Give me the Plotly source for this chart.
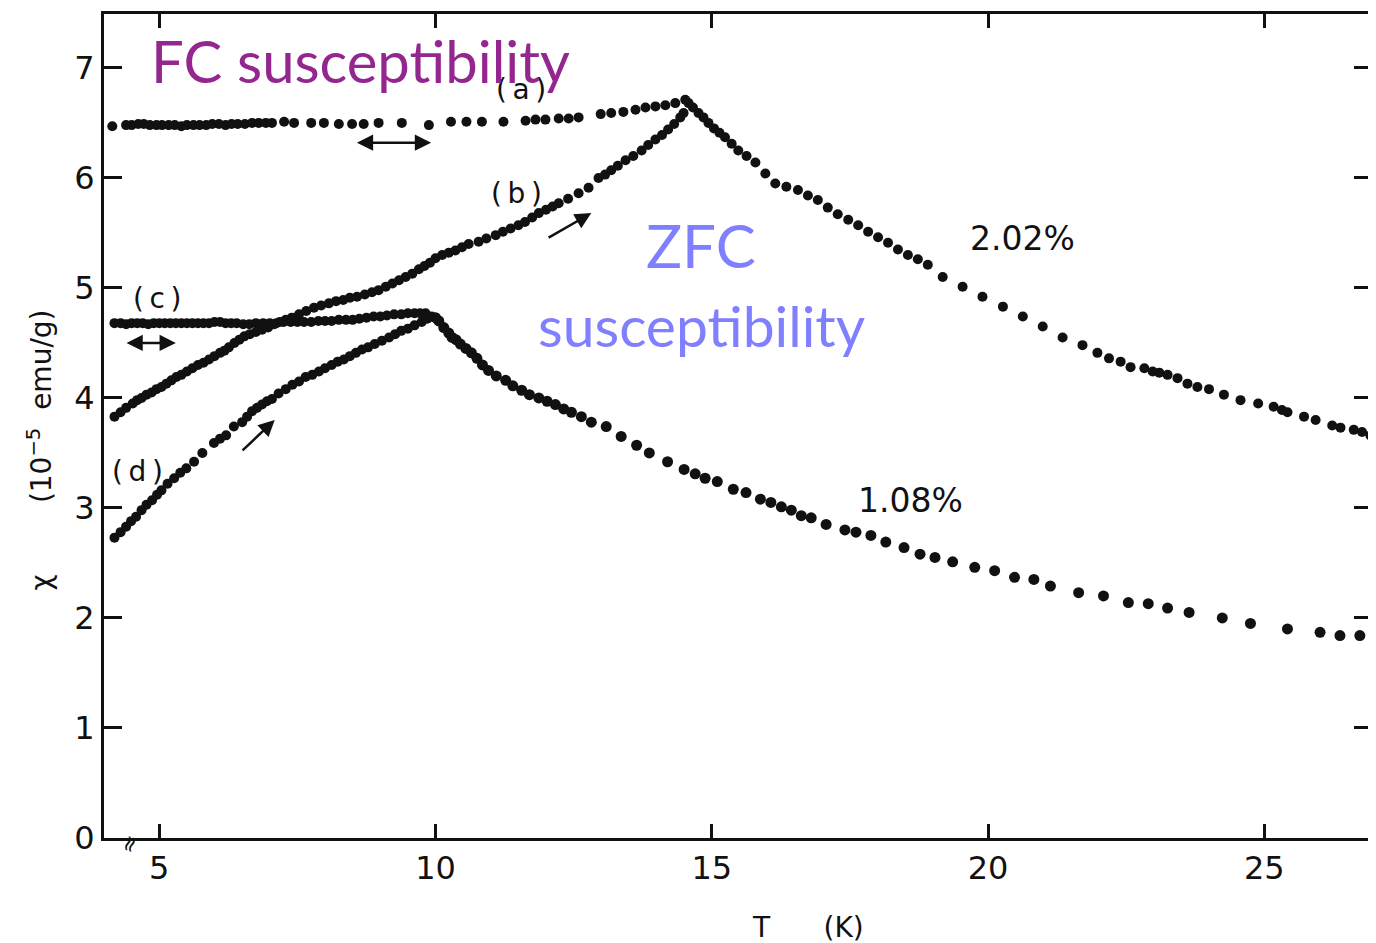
import plotly.graph_objects as go

# ---------------- data ----------------
# (a) field-cooled, 2.02 %
T_a = [4.15, 4.40, 4.50, 4.62, 4.72, 4.83, 4.95, 5.05, 5.17, 5.28, 5.40, 5.50, 5.62, 5.73, 5.85,
       5.96, 6.08, 6.20, 6.31, 6.42, 6.55, 6.68, 6.80, 6.93, 7.04, 7.26, 7.44, 7.75, 7.98, 8.25,
       8.49, 8.70, 8.97, 9.39, 9.88, 10.28, 10.56, 10.84, 11.23, 11.63, 11.81, 11.99, 12.23, 12.41,
       12.59, 12.99, 13.18, 13.40, 13.62, 13.80, 13.98, 14.16, 14.34, 14.52]
chi_a = [6.47, 6.48, 6.48, 6.49, 6.49, 6.48, 6.48, 6.48, 6.48, 6.48, 6.47, 6.48, 6.48, 6.48, 6.48,
         6.49, 6.49, 6.48, 6.49, 6.49, 6.49, 6.50, 6.50, 6.50, 6.50, 6.51, 6.50, 6.50, 6.50, 6.49,
         6.49, 6.49, 6.50, 6.50, 6.48, 6.51, 6.51, 6.51, 6.51, 6.52, 6.53, 6.53, 6.54, 6.54,
         6.55, 6.58, 6.59, 6.60, 6.62, 6.64, 6.65, 6.66, 6.68, 6.71]

# (b) zero-field-cooled, 2.02 %
T_b = [4.19, 4.30, 4.40, 4.52, 4.60, 4.68, 4.77, 4.86, 4.95, 5.04, 5.13, 5.22, 5.31, 5.40, 5.50,
       5.60, 5.70, 5.80, 5.90, 6.00, 6.10, 6.18, 6.26, 6.36, 6.45, 6.54, 6.64, 6.75, 6.86, 6.97,
       7.08, 7.18, 7.29, 7.40, 7.53, 7.66, 7.80, 7.93, 8.07, 8.20, 8.33, 8.45, 8.58, 8.72, 8.85,
       8.97, 9.10, 9.22, 9.34, 9.46, 9.58, 9.70, 9.80, 9.90, 10.00, 10.12, 10.24, 10.36, 10.48,
       10.60, 10.78, 10.92, 11.09, 11.22, 11.36, 11.50, 11.62, 11.75, 11.87, 12.00, 12.12, 12.23,
       12.40, 12.59, 12.77, 12.95, 13.07, 13.18, 13.30, 13.44, 13.58, 13.73, 13.85, 13.98, 14.10,
       14.21, 14.32, 14.43, 14.49]
chi_b = [3.83, 3.87, 3.91, 3.95, 3.98, 4.00, 4.03, 4.05, 4.08, 4.10, 4.13, 4.16, 4.19, 4.21, 4.24,
         4.27, 4.30, 4.32, 4.35, 4.38, 4.41, 4.43, 4.46, 4.50, 4.53, 4.56, 4.58, 4.60, 4.62, 4.64,
         4.67, 4.69, 4.71, 4.73, 4.76, 4.79, 4.82, 4.84, 4.86, 4.88, 4.89, 4.91, 4.92, 4.94, 4.96,
         4.98, 5.01, 5.04, 5.07, 5.10, 5.13, 5.17, 5.20, 5.23, 5.27, 5.30, 5.32, 5.34, 5.37,
         5.40, 5.42, 5.45, 5.48, 5.51, 5.54, 5.57, 5.60, 5.64, 5.68, 5.71, 5.74, 5.77,
         5.81, 5.86, 5.91, 6.00, 6.03, 6.07, 6.11, 6.16, 6.20, 6.25, 6.30, 6.35, 6.39,
         6.44, 6.49, 6.55, 6.59]

# 2.02 % above the freezing temperature (FC = ZFC)
T_hi202 = [14.58, 14.66, 14.76, 14.85, 14.94, 15.04, 15.14, 15.24, 15.36, 15.48, 15.63, 15.79,
           15.97, 16.15, 16.35, 16.56, 16.74, 16.92, 17.10, 17.28, 17.47, 17.65, 17.83, 18.01,
           18.19, 18.37, 18.55, 18.73, 18.91, 19.18, 19.54, 19.90, 20.27, 20.63, 20.99, 21.35,
           21.71, 21.98, 22.19, 22.40, 22.58, 22.83, 22.98, 23.10, 23.25, 23.43, 23.61, 23.79,
           24.00, 24.27, 24.57, 24.89, 25.17, 25.32, 25.42, 25.72, 25.93, 26.23, 26.38, 26.62,
           26.77, 26.92]
chi_hi202 = [6.68, 6.64, 6.59, 6.55, 6.50, 6.45, 6.41, 6.37, 6.31, 6.25, 6.20, 6.14,
             6.04, 5.95, 5.92, 5.89, 5.84, 5.80, 5.73, 5.67, 5.62, 5.57, 5.51, 5.46,
             5.41, 5.35, 5.30, 5.26, 5.21, 5.10, 5.01, 4.92, 4.83, 4.74, 4.65, 4.55,
             4.48, 4.41, 4.36, 4.33, 4.28, 4.27, 4.24, 4.23, 4.21, 4.18, 4.13, 4.10,
             4.08, 4.03, 3.98, 3.95, 3.92, 3.89, 3.87, 3.83, 3.80, 3.75, 3.73, 3.71,
             3.69, 3.66]

# (c) field-cooled, 1.08 %
T_c = [4.19, 4.30, 4.40, 4.50, 4.60, 4.70, 4.80, 4.90, 5.00, 5.10, 5.20, 5.30, 5.40, 5.50, 5.60,
       5.70, 5.80, 5.90, 6.00, 6.10, 6.20, 6.30, 6.40, 6.52, 6.63, 6.75, 6.88, 7.00, 7.12, 7.25,
       7.38, 7.50, 7.62, 7.75, 7.88, 8.00, 8.12, 8.25, 8.38, 8.50, 8.62, 8.75, 8.88, 9.00, 9.12,
       9.25, 9.38, 9.50, 9.62, 9.72, 9.82]
chi_c = [4.68, 4.68, 4.67, 4.68, 4.68, 4.68, 4.67, 4.68, 4.68, 4.68, 4.68, 4.68, 4.68, 4.68, 4.68,
         4.68, 4.68, 4.68, 4.69, 4.69, 4.68, 4.68, 4.68, 4.67, 4.67, 4.68, 4.68, 4.68, 4.68, 4.69,
         4.69, 4.69, 4.69, 4.69, 4.70, 4.70, 4.70, 4.71, 4.71, 4.71, 4.72, 4.73, 4.74, 4.74, 4.75,
         4.76, 4.76, 4.77, 4.77, 4.77, 4.77]

# (d) zero-field-cooled, 1.08 %
T_d = [4.19, 4.30, 4.40, 4.49, 4.58, 4.68, 4.77, 4.87, 4.96, 5.04, 5.15, 5.27, 5.38, 5.49, 5.63,
       5.78, 5.99, 6.10, 6.21, 6.35, 6.50, 6.59, 6.68, 6.77, 6.86, 6.95, 7.04, 7.16, 7.29, 7.41,
       7.53, 7.65, 7.77, 7.89, 8.00, 8.12, 8.23, 8.34, 8.45, 8.56, 8.67, 8.78, 8.90, 9.03, 9.16,
       9.27, 9.38, 9.50, 9.62, 9.75, 9.85, 9.93]
chi_d = [2.73, 2.78, 2.83, 2.88, 2.92, 2.98, 3.03, 3.07, 3.12, 3.16, 3.22, 3.27, 3.32, 3.36, 3.42,
         3.50, 3.59, 3.63, 3.66, 3.74, 3.78, 3.83, 3.88, 3.91, 3.94, 3.97, 3.99, 4.04, 4.08, 4.12,
         4.15, 4.19, 4.21, 4.24, 4.27, 4.30, 4.33, 4.35, 4.38, 4.41, 4.44, 4.46, 4.49, 4.52, 4.55,
         4.58, 4.61, 4.63, 4.66, 4.69, 4.72, 4.74]

# 1.08 % above the freezing temperature (FC = ZFC)
T_hi108 = [10.00, 10.06, 10.15, 10.24, 10.30, 10.37, 10.45, 10.55, 10.65, 10.75, 10.85, 10.96,
           11.10, 11.27, 11.40, 11.56, 11.70, 11.87, 12.02, 12.17, 12.32, 12.46, 12.64, 12.82,
           13.09, 13.36, 13.64, 13.87, 14.20, 14.50, 14.70, 14.88, 15.10, 15.39, 15.62, 15.88,
           16.07, 16.26, 16.44, 16.62, 16.80, 17.07, 17.41, 17.61, 17.88, 18.15, 18.48, 18.77,
           19.04, 19.36, 19.76, 20.12, 20.48, 20.83, 21.13, 21.64, 22.09, 22.54, 22.90, 23.25,
           23.64, 24.24, 24.75, 25.42, 26.01, 26.37, 26.73]
chi_hi108 = [4.73, 4.70, 4.64, 4.59, 4.55, 4.53, 4.49, 4.45, 4.41, 4.36, 4.30, 4.25,
             4.20, 4.16, 4.11, 4.07, 4.03, 4.00, 3.97, 3.94, 3.90, 3.87, 3.83, 3.78,
             3.74, 3.65, 3.57, 3.50, 3.42, 3.35, 3.31, 3.27, 3.24, 3.17, 3.14, 3.08,
             3.05, 3.01, 2.98, 2.93, 2.91, 2.85, 2.80, 2.78, 2.75, 2.69, 2.64, 2.58,
             2.55, 2.51, 2.46, 2.43, 2.37, 2.35, 2.29, 2.23, 2.20, 2.14, 2.13, 2.09,
             2.05, 2.00, 1.95, 1.90, 1.87, 1.84, 1.84]

x_ticks = [5, 10, 15, 20, 25]
y_ticks = [0, 1, 2, 3, 4, 5, 6, 7]

# ---------------- figure ----------------
INK = "#111111"
fig = go.Figure()

series = [
    (T_a, chi_a, 10), (T_b, chi_b, 10), (T_hi202, chi_hi202, 10),
    (T_c, chi_c, 10), (T_d, chi_d, 10), (T_hi108, chi_hi108, 11),
]
for xs, ys, sz in series:
    fig.add_trace(go.Scatter(x=xs, y=ys, mode="markers",
                             marker=dict(color=INK, size=sz, line=dict(width=0)),
                             showlegend=False, hoverinfo="x+y"))

TXT = dict(family="DejaVu Sans", color=INK)
TS = "\u2009"
ann = []
# curve labels
for txt, x, y, sz in [(f"({TS}a{TS})", 11.54, 6.80, 28), (f"({TS}b{TS})", 11.47, 5.86, 28),
                      (f"({TS}c{TS})", 4.96, 4.90, 28), (f"({TS}d{TS})", 4.60, 3.33, 28),
                      ("2.02%", 20.63, 5.45, 33), ("1.08%", 18.60, 3.07, 33)]:
    ann.append(dict(x=x, y=y, xref="x", yref="y", text=txt, showarrow=False,
                    font=dict(size=sz, **TXT)))


def arrow(x0, y0, x1, y1, both=False):
    return dict(x=x1, y=y1, ax=x0, ay=y0, xref="x", yref="y", axref="x", ayref="y",
                text="", showarrow=True, arrowhead=2, arrowsize=1.3, arrowwidth=2.5,
                arrowcolor=INK, arrowside="end+start" if both else "end",
                startarrowhead=2, startarrowsize=1.3)


ann.append(arrow(8.55, 6.32, 9.92, 6.32, both=True))
ann.append(arrow(4.38, 4.50, 5.30, 4.50, both=True))
ann.append(arrow(12.02, 5.45, 12.82, 5.68))
ann.append(arrow(6.48, 3.51, 7.09, 3.80))

# overlay titles
ann.append(dict(x=4.82, y=7.07, xref="x", yref="y", text="FC susceptibility",
                showarrow=False, xanchor="left", yanchor="middle",
                font=dict(family="Lato", size=58, color="#93278F")))
ann.append(dict(x=14.81, y=5.39, xref="x", yref="y", text="ZFC",
                showarrow=False, font=dict(family="Lato", size=60, color="#7F7FFF")))
ann.append(dict(x=14.81, y=4.66, xref="x", yref="y", text="susceptibility",
                showarrow=False, font=dict(family="Lato", size=57, color="#7F7FFF")))

# axis titles
ann.append(dict(x=-0.050, y=0.471, xref="paper", yref="paper",
                xanchor="center", yanchor="middle",
                text="χ        (10<sup>−5</sup>  emu/g)", textangle=-90, showarrow=False,
                font=dict(size=28, **TXT)))
ann.append(dict(x=0.555, y=-0.109, xref="paper", yref="paper",
                xanchor="center", yanchor="middle",
                text="T      (K)", showarrow=False,
                font=dict(size=28, **TXT)))
# axis break mark
ann.append(dict(x=4.45, y=0, xref="x", yref="y", text="≈", textangle=-70,
                showarrow=False, yshift=-6, font=dict(size=22, **TXT)))

# page body has an 8 px margin, so the figure is made smaller and margins shifted
fig.update_layout(
    width=1368, height=935,
    margin=dict(l=96, r=1, t=6, b=105),
    paper_bgcolor="white", plot_bgcolor="white",
    annotations=ann,
    xaxis=dict(range=[4.0, 26.95], tickvals=x_ticks, ticktext=[str(v) for v in x_ticks],
               ticks="inside", ticklen=14, tickwidth=3, tickcolor=INK,
               showline=True, linewidth=3, linecolor=INK, mirror="ticks",
               showgrid=False, zeroline=False,
               tickfont=dict(size=32, family="DejaVu Sans", color=INK)),
    yaxis=dict(range=[0, 7.49], tickvals=y_ticks, ticktext=[str(v) for v in y_ticks],
               ticks="inside", ticklen=18, tickwidth=3, tickcolor=INK,
               showline=True, linewidth=3, linecolor=INK, mirror="ticks",
               showgrid=False, zeroline=False,
               tickfont=dict(size=32, family="DejaVu Sans", color=INK)),
)

fig.write_html("out.html")
